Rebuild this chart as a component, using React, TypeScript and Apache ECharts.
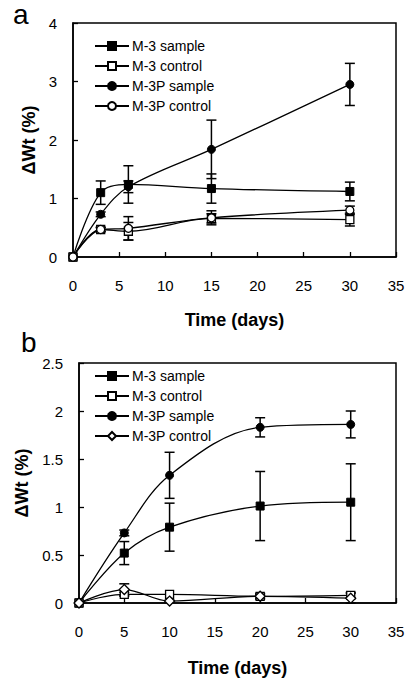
import React, { useEffect, useRef } from "react";
import * as echarts from "echarts";

const FONT = "'Liberation Sans', Arial, sans-serif";

// Panel a
const xA = [0, 3, 6, 15, 30];
const aM3Sample = [0, 1.1, 1.24, 1.17, 1.12];
const aM3SampleErr = [0, 0.2, 0.32, 0.25, 0.16];
const aM3Control = [0, 0.47, 0.44, 0.66, 0.64];
const aM3ControlErr = [0, 0.04, 0.15, 0.08, 0.11];
const aM3PSample = [0, 0.73, 1.2, 1.84, 2.95];
const aM3PSampleErr = [0, 0.04, 0.1, 0.5, 0.36];
const aM3PControl = [0, 0.47, 0.49, 0.67, 0.8];
const aM3PControlErr = [0, 0.03, 0.2, 0.12, 0.07];

// Panel b
const xB = [0, 5, 10, 20, 30];
const bM3Sample = [0, 0.52, 0.79, 1.01, 1.05];
const bM3SampleErr = [0, 0.12, 0.25, 0.36, 0.4];
const bM3Control = [0, 0.09, 0.09, 0.07, 0.08];
const bM3ControlErr = [0, 0.02, 0, 0.03, 0.03];
const bM3PSample = [0, 0.73, 1.33, 1.83, 1.86];
const bM3PSampleErr = [0, 0.03, 0.24, 0.1, 0.14];
const bM3PControl = [0, 0.14, 0.02, 0.07, 0.05];
const bM3PControlErr = [0, 0.06, 0.01, 0.02, 0.05];

const seriesNames = ["M-3 sample", "M-3 control", "M-3P sample", "M-3P control"];
const xTitle = "Time (days)";
const yTitle = "ΔWt (%)";

type Spec = { y: number[]; err: number[]; symbol: string; filled: boolean };

const panelA: Spec[] = [
  { y: aM3Sample, err: aM3SampleErr, symbol: "rect", filled: true },
  { y: aM3Control, err: aM3ControlErr, symbol: "rect", filled: false },
  { y: aM3PSample, err: aM3PSampleErr, symbol: "circle", filled: true },
  { y: aM3PControl, err: aM3PControlErr, symbol: "circle", filled: false },
];
const panelB: Spec[] = [
  { y: bM3Sample, err: bM3SampleErr, symbol: "rect", filled: true },
  { y: bM3Control, err: bM3ControlErr, symbol: "rect", filled: false },
  { y: bM3PSample, err: bM3PSampleErr, symbol: "circle", filled: true },
  { y: bM3PControl, err: bM3PControlErr, symbol: "diamond", filled: false },
];

function buildSeries(prefix: string, xs: number[], specs: Spec[], idx: number) {
  const out: any[] = [];
  specs.forEach((s, i) => {
    const errData = xs.map((x, k) => [x, s.y[k] - s.err[k], s.y[k] + s.err[k]]).filter((_, k) => s.err[k] > 0);
    out.push({
      type: "custom",
      xAxisIndex: idx,
      yAxisIndex: idx,
      z: 1,
      silent: true,
      data: errData,
      renderItem: (params: any, api: any) => {
        const x = api.value(0);
        const lo = api.coord([x, api.value(1)]);
        const hi = api.coord([x, api.value(2)]);
        const w = 5;
        const st = { stroke: "#000", lineWidth: 1.5 };
        return {
          type: "group",
          children: [
            { type: "line", shape: { x1: lo[0], y1: lo[1], x2: hi[0], y2: hi[1] }, style: st },
            { type: "line", shape: { x1: lo[0] - w, y1: lo[1], x2: lo[0] + w, y2: lo[1] }, style: st },
            { type: "line", shape: { x1: hi[0] - w, y1: hi[1], x2: hi[0] + w, y2: hi[1] }, style: st },
          ],
        };
      },
    });
    out.push({
      name: prefix + seriesNames[i],
      type: "line",
      xAxisIndex: idx,
      yAxisIndex: idx,
      z: 3,
      smooth: 0.35,
      data: xs.map((x, k) => [x, s.y[k]]),
      symbol: s.symbol,
      symbolSize: s.symbol === "diamond" ? 10 : 8,
      showSymbol: true,
      lineStyle: { color: "#000", width: 1.3 },
      itemStyle: s.filled
        ? { color: "#000", borderColor: "#000", borderWidth: 1 }
        : { color: "#fff", borderColor: "#000", borderWidth: 1.3 },
    });
  });
  return out;
}

function axisX(idx: number, nameGap: number) {
  return {
    type: "value",
    gridIndex: idx,
    min: 0,
    max: 35,
    interval: 5,
    name: xTitle,
    nameLocation: "middle",
    nameGap,
    nameTextStyle: { fontFamily: FONT, fontSize: 18, fontWeight: "bold", color: "#000" },
    axisLine: { lineStyle: { color: "#000", width: 1.5 } },
    axisTick: { inside: true, length: 5, lineStyle: { color: "#000", width: 1.3 } },
    axisLabel: { fontFamily: FONT, fontSize: 15, color: "#000", margin: 21 },
    splitLine: { show: false },
  };
}

function axisY(idx: number, max: number, interval: number, nameGap: number) {
  return {
    type: "value",
    gridIndex: idx,
    min: 0,
    max,
    interval,
    name: yTitle,
    nameLocation: "middle",
    nameGap,
    nameTextStyle: { fontFamily: FONT, fontSize: 18, fontWeight: "bold", color: "#000" },
    axisLine: { show: true, lineStyle: { color: "#000", width: 1.5 } },
    axisTick: { show: true, inside: true, length: 5, lineStyle: { color: "#000", width: 1.3 } },
    axisLabel: { fontFamily: FONT, fontSize: 15, color: "#000", margin: 16 },
    splitLine: { show: false },
  };
}

function legend(prefix: string, top: number) {
  return {
    orient: "vertical",
    left: 89,
    top,
    itemWidth: 34,
    itemHeight: 10,
    itemGap: 6,
    selectedMode: false,
    data: seriesNames.map((n) => prefix + n),
    formatter: (name: string) => name.slice(prefix.length),
    textStyle: { fontFamily: FONT, fontSize: 14, color: "#000", padding: [0, 0, 0, -2] },
  };
}

export default function App() {
  const ref = useRef<HTMLDivElement>(null);
  useEffect(() => {
    if (!ref.current) return;
    const chart = echarts.init(ref.current, undefined, { renderer: "svg" });
    chart.setOption({
      animation: false,
      backgroundColor: "#fff",
      grid: [
        { left: 73, top: 23, width: 323, height: 234, show: true, borderColor: "#000", borderWidth: 1.5, backgroundColor: "transparent" },
        { left: 79, top: 363, width: 317, height: 240, show: true, borderColor: "#000", borderWidth: 1.5, backgroundColor: "transparent" },
      ],
      xAxis: [axisX(0, 54), axisX(1, 56)],
      yAxis: [axisY(0, 4, 1, 28), axisY(1, 2.5, 0.5, 36)],
      legend: [legend("a: ", 34), legend("b: ", 364)],
      graphic: [
        { type: "text", left: 13, top: 0, style: { text: "a", font: `28px ${FONT}`, fill: "#000" } },
        { type: "text", left: 21, top: 328, style: { text: "b", font: `28px ${FONT}`, fill: "#000" } },
      ],
      series: [...buildSeries("a: ", xA, panelA, 0), ...buildSeries("b: ", xB, panelB, 1)],
    });
    return () => chart.dispose();
  }, []);
  return <div ref={ref} style={{ position: "fixed", left: 0, top: 0, width: 412, height: 682 }} />;
}
